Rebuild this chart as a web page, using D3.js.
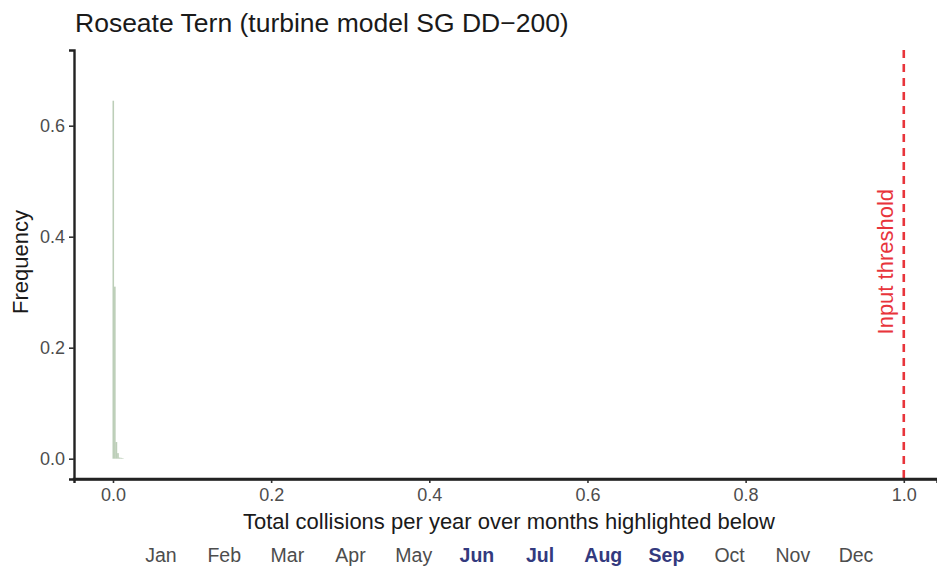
<!DOCTYPE html>
<html>
<head>
<meta charset="utf-8">
<script src="https://cdn.jsdelivr.net/npm/d3@7"></script>
<style>
  body { margin: 0; background: #fff; }
  text { font-family: "Liberation Sans", Arial, sans-serif; }
</style>
</head>
<body>
<div id="chart"></div>
<script>
// histogram bins (start of bin, bin width, frequency)
const binStarts = [0, 0.002, 0.004, 0.006, 0.008, 0.010, 0.012];
const binFreq = [0.645, 0.31, 0.03, 0.01, 0.002, 0.0015, 0.001];
const binWidth = 0.002;
const threshold = 1.0;
const xTicks = [0, 0.2, 0.4, 0.6, 0.8, 1.0];
const yTicks = [0, 0.2, 0.4, 0.6];
const months = ['Jan', 'Feb', 'Mar', 'Apr', 'May', 'Jun', 'Jul', 'Aug', 'Sep', 'Oct', 'Nov', 'Dec'];
const highlighted = ['Jun', 'Jul', 'Aug', 'Sep'];

const width = 937;
const height = 570;
const pLeft = 74, pRight = 937, pTop = 50, pBottom = 479;

const x = d3.scaleLinear().domain([-0.0493, 1.042]).range([pLeft, pRight]);
const y = d3.scaleLinear().domain([-0.0366, 0.7364]).range([pBottom, pTop]);

const svg = d3.select('#chart')
  .append('svg')
  .attr('width', width)
  .attr('height', height);

// bars
svg.append('g')
  .selectAll('rect')
  .data(binStarts)
  .enter()
  .append('rect')
  .attr('x', d => x(d) - 0.5)
  .attr('width', d => x(d + binWidth) - x(d))
  .attr('y', (d, i) => y(binFreq[i]))
  .attr('height', (d, i) => y(0) - y(binFreq[i]))
  .attr('fill', '#8fae89')
  .attr('fill-opacity', 0.6);

// threshold
svg.append('line')
  .attr('x1', x(threshold)).attr('x2', x(threshold))
  .attr('y1', pTop).attr('y2', pBottom)
  .attr('stroke', '#e8343b')
  .attr('stroke-width', 2.6)
  .attr('stroke-dasharray', '8,6');

svg.append('text')
  .attr('transform', `translate(${x(threshold) - 11},${y(0.4) + 25}) rotate(-90)`)
  .attr('text-anchor', 'middle')
  .attr('fill', '#e8343b')
  .style('font-size', '22px')
  .text('Input threshold');

// axes
const xAxis = svg.append('g')
  .attr('transform', `translate(0,${pBottom})`)
  .call(d3.axisBottom(x).tickValues(xTicks).tickFormat(d3.format('.1f')).tickSizeOuter(0).tickSize(4).tickPadding(5));
const yAxis = svg.append('g')
  .attr('transform', `translate(${pLeft},0)`)
  .call(d3.axisLeft(y).tickValues(yTicks).tickFormat(d3.format('.1f')).tickSizeOuter(0).tickSize(5).tickPadding(4));

[xAxis, yAxis].forEach(a => {
  a.select('.domain').attr('stroke', '#222').attr('stroke-width', 2.4);
  a.selectAll('.tick line').attr('stroke', '#333').attr('stroke-width', 1.6);
  a.selectAll('.tick text').attr('fill', '#4d4d4d').style('font-size', '18px')
    .style('font-family', '"Liberation Sans", Arial, sans-serif');
});
// extend the axis lines to meet at the corner
svg.append('line').attr('x1', pLeft - 1.2).attr('x2', pRight).attr('y1', pBottom).attr('y2', pBottom)
  .attr('stroke', '#222').attr('stroke-width', 2.4);

// titles
svg.append('text')
  .attr('x', 75).attr('y', 32)
  .attr('fill', '#1a1a1a')
  .style('font-size', '26.5px')
  .text('Roseate Tern (turbine model SG DD\u2212200)');

svg.append('text')
  .attr('x', 509).attr('y', 529)
  .attr('text-anchor', 'middle')
  .attr('fill', '#1a1a1a')
  .style('font-size', '22px')
  .text('Total collisions per year over months highlighted below');

svg.append('text')
  .attr('transform', `translate(28,262) rotate(-90)`)
  .attr('text-anchor', 'middle')
  .attr('fill', '#1a1a1a')
  .style('font-size', '22px')
  .text('Frequency');

// month strip
const m = d3.scalePoint().domain(months).range([161, 856]);
svg.append('g')
  .selectAll('text')
  .data(months)
  .enter()
  .append('text')
  .attr('x', d => m(d))
  .attr('y', 562)
  .attr('text-anchor', 'middle')
  .attr('fill', d => highlighted.includes(d) ? '#333a7e' : '#4d4d4d')
  .style('font-weight', d => highlighted.includes(d) ? 'bold' : 'normal')
  .style('font-size', '19.5px')
  .text(d => d);
</script>
</body>
</html>
